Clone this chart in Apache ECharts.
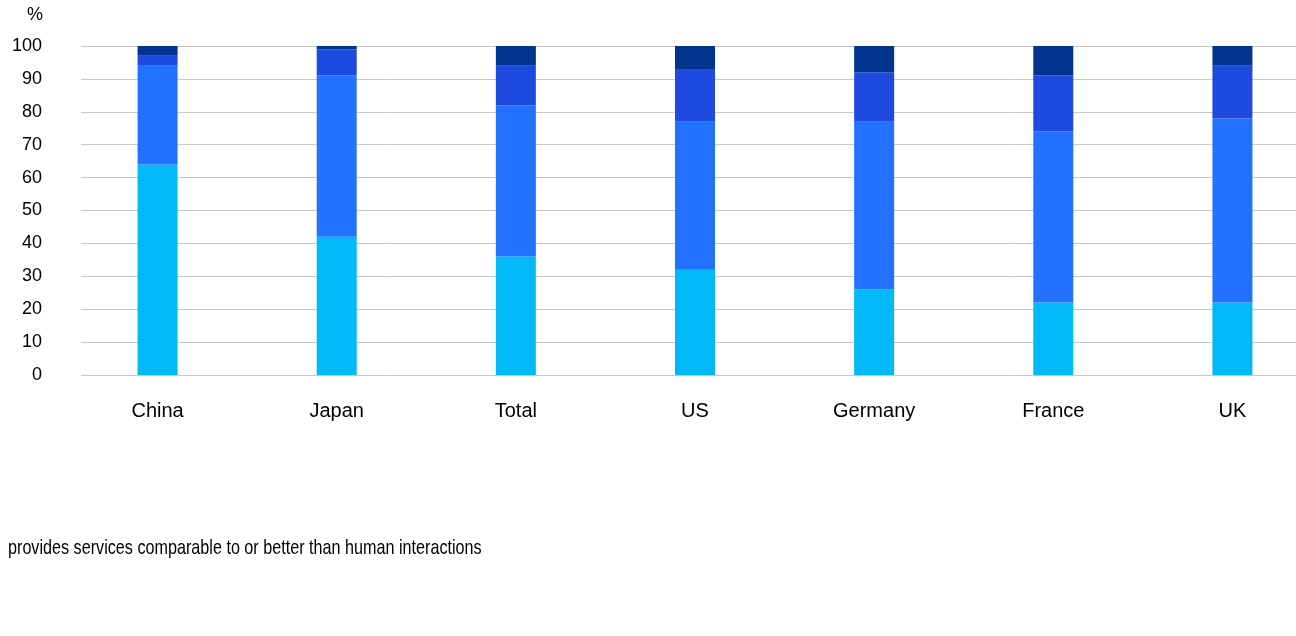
<!DOCTYPE html>
<html>
<head>
<meta charset="utf-8">
<script src="https://cdn.jsdelivr.net/npm/echarts@6/dist/echarts.min.js"></script>
<style>
  html, body { margin: 0; padding: 0; background: #ffffff; overflow: hidden; }
  /* the plot runs past the right edge of the window, so the last band is cut */
  #chart { width: 1322px; height: 636px; }
</style>
</head>
<body>
<div id="chart"></div>
<script>
// Countries along the x axis
const categories = ['China', 'Japan', 'Total', 'US', 'Germany', 'France', 'UK'];

// Stacked shares (%) per country, bottom to top
const seriesNames = ['Segment 1', 'Segment 2', 'Segment 3', 'Segment 4'];
const segment1 = [64, 42, 36, 32, 26, 22, 22];
const segment2 = [30, 49, 46, 45, 51, 52, 56];
const segment3 = [3, 8, 12, 16, 15, 17, 16];
const segment4 = [3, 1, 6, 7, 8, 9, 6];

const seriesColors = ['#00b9f6', '#2371ff', '#1f4ae0', '#00348f'];
const legendText = 'provides services comparable to or better than human interactions';

const chart = echarts.init(document.getElementById('chart'), null, { renderer: 'canvas' });

const allSegments = [segment1, segment2, segment3, segment4];
const font = '"Liberation Sans", Arial, sans-serif';

const option = {
  animation: false,
  backgroundColor: '#ffffff',
  textStyle: { fontFamily: font },
  grid: [
    // value axis + horizontal gridlines
    { left: 81, right: 0, top: 46, bottom: 261 },
    // bars and country labels
    { left: 68, right: 0, top: 46, bottom: 261 }
  ],
  xAxis: [
    { gridIndex: 0, type: 'category', data: categories, show: false },
    {
      gridIndex: 1,
      type: 'category',
      data: categories,
      axisLine: { show: false },
      axisTick: { show: false },
      axisLabel: { fontSize: 20, color: '#000000', margin: 26 }
    }
  ],
  yAxis: [
    {
      gridIndex: 0,
      type: 'value',
      min: 0,
      max: 100,
      interval: 10,
      axisLine: { show: false },
      axisTick: { show: false },
      axisLabel: { fontSize: 18, color: '#000000', margin: 39 },
      splitLine: { lineStyle: { color: '#c8c8c8', width: 1 } }
    },
    { gridIndex: 1, type: 'value', min: 0, max: 100, show: false }
  ],
  graphic: [
    {
      type: 'text',
      left: 27,
      top: 6,
      style: { text: '%', fontSize: 18, fill: '#000000', fontFamily: font }
    },
    {
      type: 'text',
      x: 8,
      y: 548,
      scaleX: 0.77,
      style: {
        text: legendText,
        fontSize: 21,
        fill: '#000000',
        verticalAlign: 'middle',
        fontFamily: font
      }
    }
  ],
  series: allSegments.map((values, i) => ({
    name: seriesNames[i],
    type: 'bar',
    stack: 'share',
    xAxisIndex: 1,
    yAxisIndex: 1,
    barWidth: 40,
    itemStyle: { color: seriesColors[i] },
    data: values
  }))
};

chart.setOption(option);
</script>
</body>
</html>
